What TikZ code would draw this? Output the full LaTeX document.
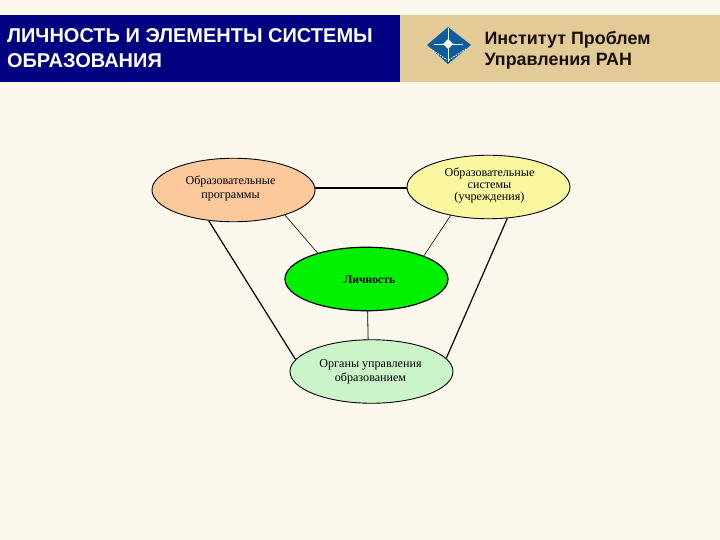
\documentclass[tikz,border=0pt]{standalone}
\usepackage{fontspec}
\setmainfont{Liberation Serif}
\newfontfamily\hdsans{Liberation Sans}
\usetikzlibrary{shapes.geometric}
\definecolor{pagebg}{HTML}{FDF8EE}
\definecolor{navybar}{HTML}{000080}
\definecolor{tanbar}{HTML}{E3CB98}
\definecolor{logoblue}{HTML}{0F5C9C}
\definecolor{orangefill}{HTML}{FBC99A}
\definecolor{yellowfill}{HTML}{FBF7A0}
\definecolor{greenfill}{HTML}{00F000}
\definecolor{palegreen}{HTML}{CBF5C8}
\definecolor{inktext}{HTML}{1A1008}
\tikzset{
  oval/.style={ellipse,draw=black,line width=0.9pt,minimum width=163pt,minimum height=63.5pt,inner sep=0pt},
  ovaltext/.style={align=center,text=black,inner sep=0pt,font=\fontsize{12.1}{14.5}\selectfont},
  thickline/.style={line width=1.6pt,black},
  thinline/.style={line width=0.6pt,black},
  midline/.style={line width=1.2pt,black},
  titletext/.style={anchor=west,align=left,text=white,font=\hdsans\bfseries\fontsize{20}{25}\selectfont},
  insttext/.style={anchor=west,align=left,text=inktext,font=\hdsans\bfseries\fontsize{17.9}{21}\selectfont},
  logodots/.style={white,line width=0.9pt,dash pattern=on 1.5pt off 1.2pt},
}
\begin{document}
\begin{tikzpicture}[x=1pt,y=-1pt]
\useasboundingbox (0,0) rectangle (720,540);
\fill[pagebg] (0,0) rectangle (720,540);
\fill[navybar] (0,15) rectangle (400,82);
\fill[tanbar] (400,15) rectangle (720,82);
% logo
\fill[logoblue] (448,27) -- (471,45) -- (448,64) -- (427,45) -- cycle;
\draw[white,line width=0.8pt] (448,28) -- (448,62);
\draw[white,line width=0.8pt] (434,44) -- (463,44);
\fill[white] (448,39) -- (453,44) -- (448,49) -- (443,44) -- cycle;
\draw[logodots] (431,49) -- (447,60);
\draw[logodots] (466,49) -- (449,60);
\node[titletext] (title) at (3.5,48.5) {ЛИЧНОСТЬ И ЭЛЕМЕНТЫ СИСТЕМЫ\\ОБРАЗОВАНИЯ};
\node[insttext] (inst) at (481,50) {Институт Проблем\\Управления РАН};
% ovals
\node[oval,fill=orangefill] (prog) at (233.5,190) {};
\node[oval,fill=yellowfill] (syst) at (488.5,187) {};
\node[oval,fill=greenfill,line width=1.2pt] (lich) at (366.5,279) {};
\node[oval,fill=palegreen] (organ) at (371.5,371.5) {};
\node[ovaltext] (progt) at (230.5,188.5) {Образовательные\\программы};
\node[ovaltext,font=\fontsize{12.1}{11.8}\selectfont] (systt) at (489.5,185.5) {Образовательные\\системы\\(учреждения)};
\node[ovaltext,font=\bfseries\fontsize{11.6}{14}\selectfont] (licht) at (369.5,280) {Личность};
\node[ovaltext] (organt) at (370.5,372) {Органы управления\\образованием};
% connectors
\coordinate (tie) at (360,188);
\draw[thickline] (prog.east |- tie) -- (syst.west |- tie);
\draw[thinline] (prog.-26) -- (lich.152);
\draw[thinline] (syst.217) -- (lich.22);
\draw[midline] (prog.-129) -- (organ.171);
\draw[midline] (syst.-59) -- (organ.10.5);
\draw[line width=0.8pt,black] (lich.-88) -- (organ.96);
\end{tikzpicture}
\end{document}
